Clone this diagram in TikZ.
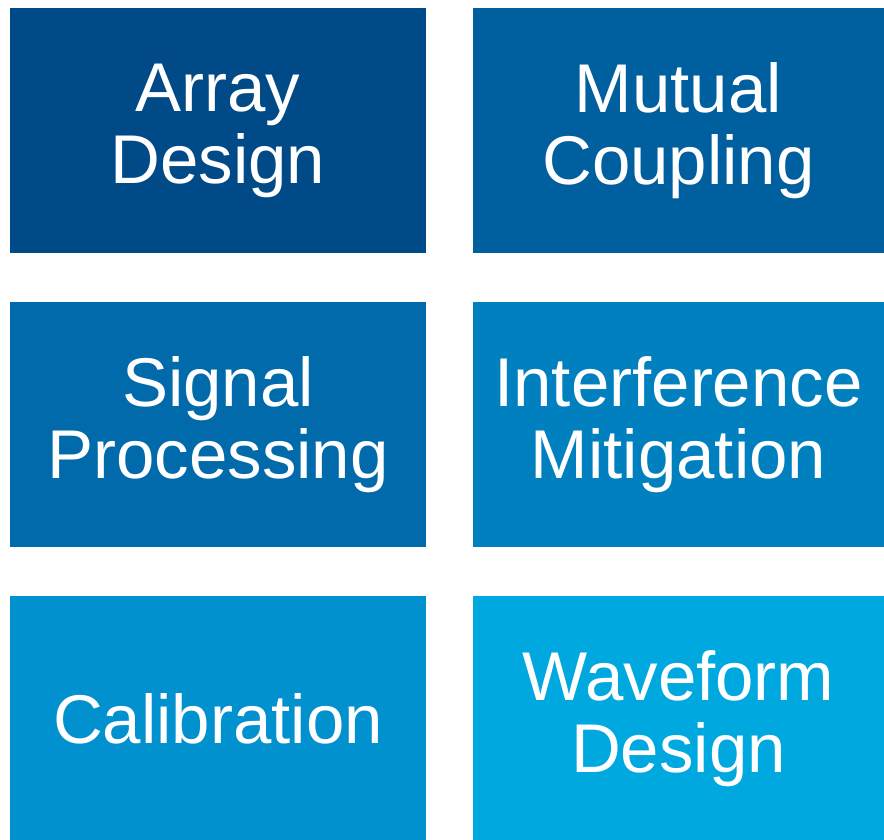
\documentclass[tikz,border=0pt]{standalone}
\usepackage{fontspec}
\setmainfont{Liberation Sans}
\usetikzlibrary{positioning}

\definecolor{boxone}{RGB}{0,75,135}
\definecolor{boxtwo}{RGB}{0,95,158}
\definecolor{boxthree}{RGB}{0,106,170}
\definecolor{boxfour}{RGB}{0,128,190}
\definecolor{boxfive}{RGB}{0,145,206}
\definecolor{boxsix}{RGB}{0,168,224}

\tikzset{
  topic/.style={rectangle, inner sep=0pt, text=white, align=center,
    minimum height=245pt, font=\fontsize{69}{72}\selectfont},
  leftcol/.style={topic, minimum width=416pt},
  rightcol/.style={topic, minimum width=411pt},
}

\begin{document}
\begin{tikzpicture}
   % Sizes
   \pgfmathsetmacro{\colone}{218}
   \pgfmathsetmacro{\coltwo}{678.5}
   \pgfmathsetmacro{\rowstep}{294}
   \useasboundingbox[fill=white] (0,0) rectangle (884pt,-840pt);

   % boxes
   \node[leftcol, fill=boxone] (array) at (\colone pt, -130.5pt) {Array\\Design};
   \node[rightcol, fill=boxtwo] (mutual) at (\coltwo pt, -130.5pt) {Mutual\\Coupling};

   \node[leftcol, fill=boxthree] (signal) at (\colone pt, -130.5pt-\rowstep pt) {Signal\\Processing};
   \node[rightcol, fill=boxfour] (interf) at (\coltwo pt, -130.5pt-\rowstep pt) {Interference\\Mitigation};

   \node[leftcol, fill=boxfive] (calib) at (\colone pt, -130.5pt-2*\rowstep pt) {Calibration};
   \node[rightcol, fill=boxsix] (wave) at (\coltwo pt, -130.5pt-2*\rowstep pt) {Waveform\\Design};
\end{tikzpicture}
\end{document}
